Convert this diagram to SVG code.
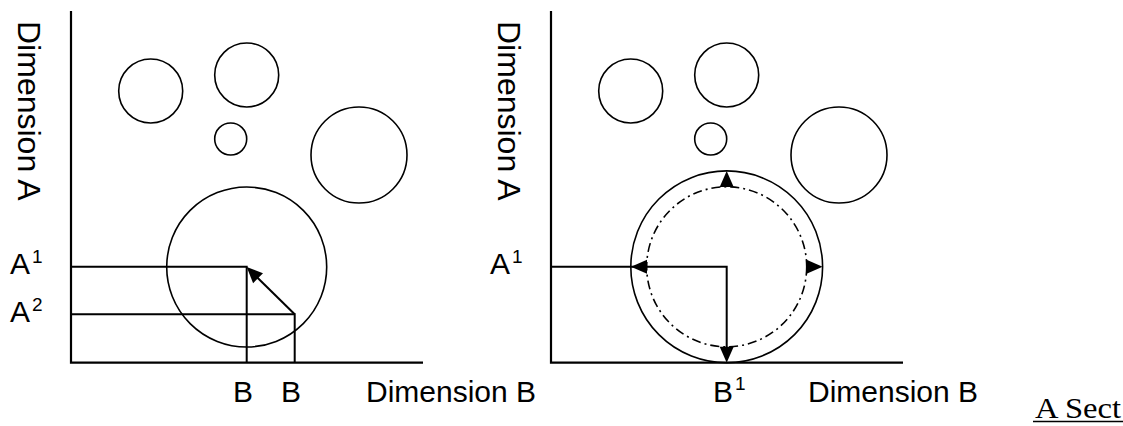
<svg xmlns="http://www.w3.org/2000/svg" width="1123" height="426" viewBox="0 0 1123 426">
<style>
.ax{stroke:#000;stroke-width:2.2;fill:none}
.ln{stroke:#000;stroke-width:2;fill:none}
.c{stroke:#000;stroke-width:1.6;fill:none}
.dd{stroke:#000;stroke-width:1.6;fill:none;stroke-dasharray:9 4 2 4}
.t{font-family:"Liberation Sans",Arial,sans-serif;font-size:30px;fill:#000}
.tv{font-family:"Liberation Sans",Arial,sans-serif;font-size:32px;fill:#000}
.sup{font-family:"Liberation Sans",Arial,sans-serif;font-size:19px;fill:#000}
.ser{font-family:"Liberation Serif","Times New Roman",serif;font-size:30px;fill:#000}
</style>
<defs>
<path id="ah" d="M0,0 L-16,-7 L-16,7 Z" fill="#000"/>
</defs>
<g id="left-panel">
<g id="left-axes">
<path class="ax" d="M71,11 V362.7 H423"/>
</g>
<g id="left-circles">
<circle class="c" cx="150.7" cy="91" r="32"/>
<circle class="c" cx="246.7" cy="75" r="32"/>
<circle class="c" cx="230.7" cy="139" r="16"/>
<circle class="c" cx="359" cy="155" r="48"/>
<circle class="c" cx="246.7" cy="267" r="80"/>
</g>
<g id="left-connectors">
<path class="ln" d="M71,266.7 H246.7 V362.7"/>
<path class="ln" d="M71,314.3 H294.7 V362.7"/>
<path class="ln" d="M294.7,314.3 L256,276.2"/>
<use href="#ah" transform="translate(246.7,266.9) rotate(-135.2)"/>
</g>
<g id="left-labels">
<text class="tv" transform="translate(18,21) rotate(90)">Dimension A</text>
<text class="t" x="10" y="274">A</text>
<text class="sup" x="32" y="263">1</text>
<text class="t" x="10" y="322">A</text>
<text class="sup" x="32" y="311">2</text>
<text class="t" x="233" y="401.5">B</text>
<text class="t" x="281" y="401.5">B</text>
<text class="t" x="366" y="401.5">Dimension B</text>
</g>
</g>
<g id="right-panel">
<g id="right-axes">
<path class="ax" d="M551,11 V362.7 H903"/>
</g>
<g id="right-circles">
<circle class="c" cx="630.7" cy="91" r="32"/>
<circle class="c" cx="726.7" cy="75" r="32"/>
<circle class="c" cx="710.7" cy="139" r="16"/>
<circle class="c" cx="839" cy="155" r="48"/>
<circle class="c" cx="726.7" cy="266.8" r="95.9"/>
<circle class="dd" cx="726.7" cy="266.8" r="80"/>
</g>
<g id="right-connectors">
<path class="ln" d="M551,266.7 H726.7 V348"/>
<use href="#ah" transform="translate(631,266.7) rotate(180)"/>
<use href="#ah" transform="translate(822.6,266.7)"/>
<use href="#ah" transform="translate(726.7,171) rotate(-90)"/>
<use href="#ah" transform="translate(726.7,362.7) rotate(90)"/>
</g>
<g id="right-labels">
<text class="tv" transform="translate(498,21) rotate(90)">Dimension A</text>
<text class="t" x="490" y="274">A</text>
<text class="sup" x="512" y="263">1</text>
<text class="t" x="713" y="401.5">B</text>
<text class="sup" x="735" y="390">1</text>
<text class="t" x="808" y="401.5">Dimension B</text>
</g>
</g>
<g id="caption">
<text class="ser" x="1035" y="418" textLength="86" lengthAdjust="spacingAndGlyphs">A Sect</text>
<line x1="1033" y1="421.5" x2="1123" y2="421.5" stroke="#000" stroke-width="1.6"/>
</g>
</svg>
